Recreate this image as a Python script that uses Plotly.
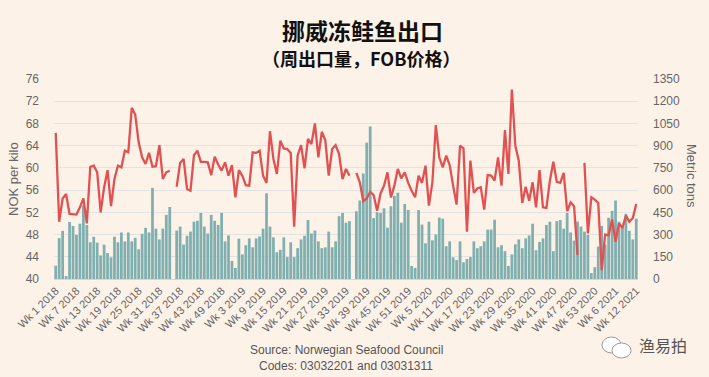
import plotly.graph_objects as go

# ---- data ----
weeks_2018 = [f"Wk {w} 2018" for w in range(1, 53)]
weeks_2019 = [f"Wk {w} 2019" for w in range(1, 53)]
weeks_2020 = [f"Wk {w} 2020" for w in range(1, 54)]
weeks_2021 = [f"Wk {w} 2021" for w in range(1, 13)]
categories = weeks_2018 + weeks_2019 + weeks_2020 + weeks_2021

tons = [
    90, 276, 325, 20, 385, 358, 298, 373, 497, 365, 248, 285, 245, 159, 232, 175, 146, 285, 248, 314,
    254, 314, 254, 278, 201, 305, 345, 314, 615, 340, 267, 340, 433, 486, None, 327, 354, 232, 292, 320,
    387, 393, 446, 354, 307, 433, 393, 365, 446, 254, 294, 122, 75, 272, 166, 228, 274, 214, 274, 287,
    340, 579, 354, 281, 181, 197, 281, 148, 248, 148, 208, 267, 292, 398, 307, 327, 254, 208, 214, 320,
    214, 254, 424, 446, 380, 391, None, 457, 530, 712, 920, 1030, 411, 451, 446, 477, 347, 491, 561, 583,
    380, 506, 466, 88, 75, 466, 367, 241, 387, 261, 301, 415, 407, 221, 254, 146, 128, 254, 113, 135,
    148, 254, 208, 221, 254, 334, 334, 400, 214, 228, 188, 88, 166, 234, 267, 208, 274, 294, 373, 194,
    250, 274, 365, 387, 188, 391, 398, 340, 446, 314, 259, 387, 354, 320, 298, 40, 80, 219, 358, 232,
    413, 460, 530, 387, 358, 440, 325, 267, 407,
]

nok = [
    66.3, 50.3, 54.5, 55.3, 51.7, 51.7, 51.6, 52.9, 54.5, 50.0, 60.2, 60.4, 59.2, 52.0, 56.5, 59.6, 53.1, 58.0, 60.4, 60.1,
    63.1, 62.8, 70.8, 69.6, 64.6, 61.9, 60.7, 62.7, 60.2, 60.3, 64.1, 58.0, 59.2, 59.5, None, 56.6, 60.9, 61.6, 56.2, 55.9,
    62.3, 63.1, 61.1, 61.1, 61.0, 58.7, 62.0, 60.6, 59.5, 61.0, 58.6, 60.5, 54.7, 59.6, 58.6, 56.9, 56.8, 62.8, 62.7, 63.1,
    58.6, 57.3, 66.6, 61.6, 58.9, 64.9, 63.5, 63.4, 62.7, 49.4, 62.2, 64.1, 59.9, 65.2, 64.3, 68.0, 61.9, 66.5, 65.0, 58.6,
    63.4, 64.1, 62.5, 58.0, 59.8, 58.6, None, 59.1, 57.4, 54.0, 54.5, 55.7, 55.1, 52.3, 55.4, 56.8, 59.2, 54.7, 56.8, 59.8,
    58.1, 59.2, 57.3, 55.9, 54.7, 58.6, 57.3, 60.4, 53.2, 57.4, 67.7, 61.9, 60.1, 62.2, 60.5, 56.8, 53.4, 64.0, 63.5, 48.5,
    61.3, 55.5, 56.3, 56.5, 52.5, 58.7, 58.6, 57.7, 61.9, 56.8, 66.8, 58.9, 74.1, 64.0, 61.3, 53.7, 56.6, 54.1, 57.4, 52.9,
    59.6, 52.9, 52.8, 57.7, 61.1, 57.5, 57.3, 59.1, 52.2, 53.8, 53.1, 44.3, None, 60.9, 48.2, 54.7, 54.3, 53.7, 41.6, 48.0,
    47.9, 50.7, 46.7, 50.0, 49.2, 51.4, 50.3, 51.0, 53.5,
]

tick_labels = categories[::6]
nok_ticks = list(range(40, 77, 4))
ton_ticks = list(range(0, 1351, 150))

# ---- layout constants ----
W, H = 709, 377
ML, MR, MT, MB = 54, 71, 79, 98
PW, PH = W - ML - MR, H - MT - MB


def px(x):
    return (x - ML) / PW


def py(y):
    return (H - MB - y) / PH


BG = "#fdf2e8"
GREY = "#666666"
FONT = "Arial, Liberation Sans, sans-serif"
CJK = "Noto Sans CJK SC"

fig = go.Figure()
fig.add_trace(go.Bar(
    x=categories, y=tons, yaxis="y", marker=dict(color="#80afaf", line=dict(width=0)),
    name="Metric tons",
))
fig.add_trace(go.Scatter(
    x=categories, y=nok, yaxis="y2", mode="lines", connectgaps=False,
    line=dict(color="#e05252", width=2.3), name="NOK per kilo",
))

fig.update_layout(
    width=W, height=H,
    margin=dict(l=ML, r=MR, t=MT, b=MB, autoexpand=False),
    paper_bgcolor=BG, plot_bgcolor=BG,
    showlegend=False, bargap=0.2,
    font=dict(family=FONT, color=GREY, size=11),
    xaxis=dict(
        type="category", range=[-0.5, len(categories) - 0.5],
        tickmode="array", tickvals=tick_labels, ticktext=tick_labels,
        tickangle=-45, tickfont=dict(size=11, color=GREY),
        showline=True, linecolor="#ccd6eb", linewidth=1, showgrid=False, ticks="",
    ),
    yaxis=dict(
        side="right", range=[0, 1350], tickvals=ton_ticks,
        tickfont=dict(size=12, color=GREY), showgrid=True, gridcolor="#e2e2e2",
        zeroline=False, ticklabelstandoff=14,
    ),
    yaxis2=dict(
        side="left", overlaying="y", range=[40, 76], tickvals=nok_ticks,
        tickfont=dict(size=12, color=GREY), showgrid=False, zeroline=False,
        ticklabelstandoff=14,
    ),
)

ann = [
    dict(text="<b>挪威冻鲑鱼出口</b>", x=px(363), y=py(30), font=dict(family=CJK, size=23, color="#111111")),
    dict(text="<b>（周出口量，FOB价格）</b>", x=px(361), y=py(58), font=dict(family=CJK, size=18, color="#111111")),
    dict(text="NOK per kilo", x=px(13), y=py(179), textangle=-90, font=dict(size=13, color=GREY)),
    dict(text="Metric tons", x=px(692), y=py(176), textangle=90, font=dict(size=13, color=GREY)),
    dict(text="Source: Norwegian Seafood Council", x=px(346), y=py(350), font=dict(size=12, color="#555555")),
    dict(text="Codes: 03032201 and 03031311", x=px(346), y=py(366), font=dict(size=12, color="#555555")),
    dict(text="渔易拍", x=px(663), y=py(345), font=dict(family=CJK, size=16, color="#555555")),
]
for a in ann:
    a.update(xref="paper", yref="paper", showarrow=False, xanchor="center", yanchor="middle")
fig.update_layout(annotations=ann)

# WeChat-like bubble icon (decoration)
fig.add_shape(type="circle", xref="paper", yref="paper", x0=px(602), x1=px(621), y0=py(353), y1=py(337),
              fillcolor="white", line=dict(color="#999999", width=1))
fig.add_shape(type="circle", xref="paper", yref="paper", x0=px(612), x1=px(631), y0=py(358), y1=py(343),
              fillcolor="white", line=dict(color="#999999", width=1))

fig.write_html(
    "out.html",
    config={"displayModeBar": False},
    post_script="document.body.style.margin='0';document.body.style.background='%s';" % BG,
)
